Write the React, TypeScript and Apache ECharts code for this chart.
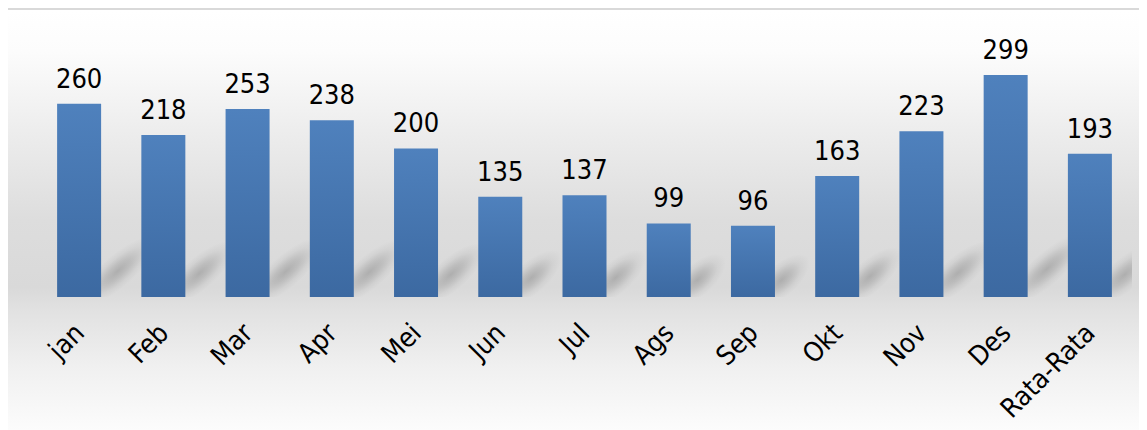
import React, { useEffect, useRef } from "react";
import * as echarts from "echarts";

const categories = ["jan", "Feb", "Mar", "Apr", "Mei", "Jun", "Jul", "Ags", "Sep", "Okt", "Nov", "Des", "Rata-Rata"];
const values = [260, 218, 253, 238, 200, 135, 137, 99, 96, 163, 223, 299, 193];

const FONT = "'DejaVu Sans Condensed', 'DejaVu Sans', sans-serif";

export default function App() {
  const ref = useRef<HTMLDivElement>(null);
  useEffect(() => {
    if (!ref.current) return;
    const chart = echarts.init(ref.current, null, { renderer: "svg" });
    chart.setOption({
      animation: false,
      backgroundColor: {
        type: "linear", x: 0, y: 0, x2: 0, y2: 1,
        colorStops: [
          { offset: 0, color: "#ffffff" },
          { offset: 0.1, color: "#fcfcfc" },
          { offset: 0.3, color: "#ececec" },
          { offset: 0.5, color: "#dddddd" },
          { offset: 0.66, color: "#d9d9d9" },
          { offset: 0.72, color: "#e2e2e2" },
          { offset: 0.85, color: "#f0f0f0" },
          { offset: 1, color: "#fcfcfc" },
        ],
      },
      grid: { left: 29, right: 15, top: 27, bottom: 133, containLabel: false },
      xAxis: {
        type: "category",
        data: categories,
        axisLine: { show: false },
        axisTick: { show: false },
        axisLabel: { rotate: 45, margin: 31, fontSize: 27, color: "#000", fontFamily: FONT, interval: 0 },
      },
      yAxis: { type: "value", min: 0, max: 350, show: false, splitLine: { show: false } },
      series: [
        {
          type: "custom",
          clip: true,
          z: 1,
          silent: true,
          data: values.map((v, i) => [i, v]),
          renderItem: (params: any, api: any) => {
            const base = api.coord([api.value(0), 0]);
            const top = api.coord([api.value(0), api.value(1)]);
            const h = base[1] - top[1];
            const xr = base[0] + 22;
            const yb = base[1];
            const L = 18 + 0.22 * h;
            const ang = 0.72;
            const cx = xr + (L / 2) * Math.cos(ang) - 6;
            const cy = yb - (L / 2) * Math.sin(ang) - 6;
            return {
              type: "ellipse",
              x: cx,
              y: cy,
              rotation: ang,
              shape: { cx: 0, cy: 0, rx: L / 2 + 18, ry: 16 },
              style: {
                fill: {
                  type: "radial", x: 0.5, y: 0.5, r: 0.5,
                  colorStops: [
                    { offset: 0, color: "rgba(0,0,0,0.2)" },
                    { offset: 0.35, color: "rgba(0,0,0,0.13)" },
                    { offset: 0.7, color: "rgba(0,0,0,0.04)" },
                    { offset: 1, color: "rgba(0,0,0,0)" },
                  ],
                },
              },
            };
          },
        },
        {
          type: "bar",
          z: 2,
          data: values,
          barWidth: 44,
          itemStyle: {
            color: {
              type: "linear", x: 0, y: 0, x2: 0, y2: 1,
              colorStops: [
                { offset: 0, color: "#4f81bd" },
                { offset: 1, color: "#3c69a1" },
              ],
            },
          },
          label: {
            show: true,
            position: "top",
            distance: 12,
            fontSize: 27,
            color: "#000",
            fontFamily: FONT,
          },
        },
      ],
    });
    return () => chart.dispose();
  }, []);
  return (
    <div
      style={{
        marginLeft: -2,
        width: 1141,
        height: 422,
        boxSizing: "border-box",
        borderLeft: "2px solid #d9d9d9",
        borderTop: "2px solid #d9d9d9",
      }}
    >
      <div ref={ref} style={{ width: 1139, height: 420 }} />
    </div>
  );
}
